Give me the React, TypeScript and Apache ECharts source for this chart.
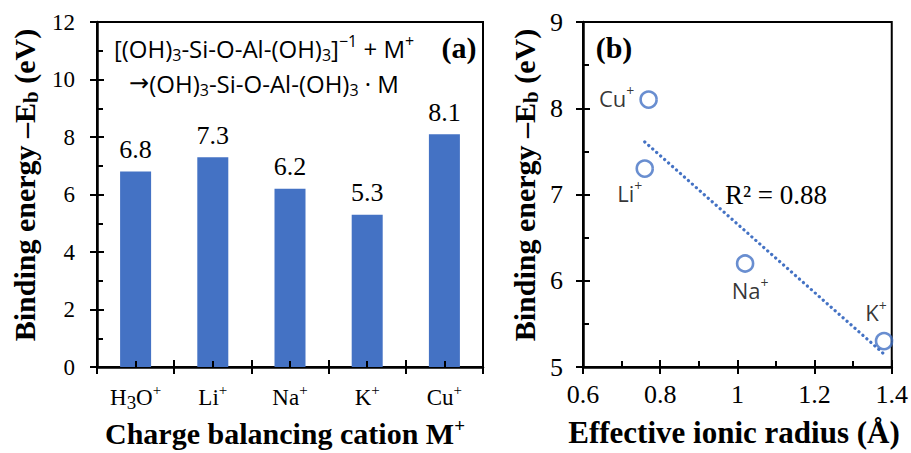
import React, { useEffect, useRef } from "react";
import * as echarts from "echarts";

// ---- Panel (a) data ----
const cations = ["H3O+", "Li+", "Na+", "K+", "Cu+"];
const bindingEnergy = [6.8, 7.3, 6.2, 5.3, 8.1];
const leftYMin = 0;
const leftYMax = 12;
const leftYInterval = 2;

// ---- Panel (b) data ----
const radiusIons = ["Cu+", "Li+", "Na+", "K+"];
const ionicRadius = [0.77, 0.76, 1.02, 1.38];
const radiusEnergy = [8.1, 7.3, 6.2, 5.3];
const trendX = [0.76, 1.38];
const trendY = [7.61, 5.15];
const rightXMin = 0.6;
const rightXMax = 1.4;
const rightXInterval = 0.2;
const rightYMin = 5;
const rightYMax = 9;
const rightYInterval = 1;
const rSquaredText = "R² = 0.88";

const SERIF = "Liberation Serif";
const SANS = "Open Sans";
const BLUE = "#4472C4";

const toRich = (s: string) =>
  ("{n|" + s.replace(/(\d)/g, "}{s|$1}{n|").replace(/\+/g, "}{p|+}{n|") + "}").replace(/\{n\|\}/g, "");

export default function App() {
  const ref = useRef<HTMLDivElement>(null);

  useEffect(() => {
    if (!ref.current) return;
    const chart = echarts.init(ref.current, undefined, { renderer: "svg" });

    const tickStyle = { color: "#000", width: 2 };
    const axisLineStyle = { color: "#000", width: 2.5 };

    const labelOffsets: Record<string, number[]> = {
      "Cu+": [-32, -2],
      "Li+": [-15, 24],
      "Na+": [5, 26],
      "K+": [-8, -29],
    };

    const catRich = {
      n: { fontSize: 23, fontFamily: SERIF, color: "#000", lineHeight: 30 },
      s: { fontSize: 19, fontFamily: SERIF, color: "#000", lineHeight: 16, verticalAlign: "bottom" },
      p: { fontSize: 15, fontFamily: SERIF, color: "#000", lineHeight: 17, verticalAlign: "top" },
    };
    const sansRich = (base: number, small: number) => ({
      n: { fontSize: base, fontFamily: SANS, color: "#000", lineHeight: base + 6 },
      a: { fontSize: base, fontFamily: "DejaVu Sans", color: "#000", lineHeight: base + 6 },
      s: { fontSize: small, fontFamily: SANS, color: "#000", lineHeight: small, verticalAlign: "bottom" },
      p: { fontSize: small, fontFamily: SANS, color: "#000", lineHeight: small, verticalAlign: "top" },
    });
    const titleRich = {
      t: { fontSize: 30, fontFamily: SERIF, fontWeight: "bold", color: "#000", lineHeight: 34 },
      s: { fontSize: 21, fontFamily: SERIF, fontWeight: "bold", color: "#000", lineHeight: 20, verticalAlign: "bottom" },
      p: { fontSize: 19, fontFamily: SERIF, fontWeight: "bold", color: "#000", lineHeight: 28, verticalAlign: "top" },
    };

    const valueLabel = (size: number, margin: number) => ({
      margin, fontSize: size, fontFamily: SERIF, color: "#000",
      formatter: (v: number) => String(Math.round(v * 10) / 10),
    });

    const option: any = {
      animation: false,
      grid: [
        { left: 97, top: 22, width: 386, height: 345, show: true, borderColor: "#000", borderWidth: 2, backgroundColor: "transparent" },
        { left: 583, top: 22, width: 310, height: 345, show: true, borderColor: "#000", borderWidth: 2, backgroundColor: "transparent" },
      ],
      xAxis: [
        {
          type: "category", gridIndex: 0, data: cations,
          axisLine: { show: true, lineStyle: axisLineStyle },
          axisTick: { show: true, inside: false, length: 7, lineStyle: tickStyle },
          axisLabel: {
            margin: 15, interval: 0, hideOverlap: false,
            fontSize: 23, fontFamily: SERIF, color: "#000",
            formatter: (v: string) => toRich(v), rich: catRich,
          },
          splitLine: { show: false },
        },
        {
          type: "category", gridIndex: 0, data: cations, position: "bottom",
          axisLine: { show: false },
          axisTick: { show: true, inside: true, length: 7, lineStyle: tickStyle },
          axisLabel: { show: false }, splitLine: { show: false }, z: 10,
        },
        {
          type: "category", gridIndex: 0, data: cations, position: "bottom",
          axisLine: { show: false },
          axisTick: { show: true, inside: true, alignWithLabel: true, interval: 0, length: 6, lineStyle: tickStyle },
          axisLabel: { show: false }, splitLine: { show: false }, z: 10,
        },
        {
          type: "value", gridIndex: 1, min: rightXMin, max: rightXMax, interval: rightXInterval,
          axisLine: { show: true, lineStyle: axisLineStyle },
          axisTick: { show: true, inside: false, length: 7, lineStyle: tickStyle },
          axisLabel: valueLabel(26, 14),
          splitLine: { show: false },
        },
        {
          type: "value", gridIndex: 1, min: rightXMin, max: rightXMax, interval: rightXInterval, position: "bottom",
          axisLine: { show: false },
          axisTick: { show: true, inside: true, length: 7, lineStyle: tickStyle },
          minorTick: { show: true, splitNumber: 2, length: 6, lineStyle: tickStyle },
          axisLabel: { show: false }, splitLine: { show: false }, minorSplitLine: { show: false },
        },
      ],
      yAxis: [
        {
          type: "value", gridIndex: 0, min: leftYMin, max: leftYMax, interval: leftYInterval,
          axisLine: { show: true, lineStyle: axisLineStyle },
          axisTick: { show: true, inside: false, length: 7, lineStyle: tickStyle },
          axisLabel: valueLabel(23, 22),
          splitLine: { show: false },
        },
        {
          type: "value", gridIndex: 0, min: leftYMin, max: leftYMax, interval: leftYInterval, position: "left",
          axisLine: { show: false },
          axisTick: { show: true, inside: true, length: 7, lineStyle: tickStyle },
          minorTick: { show: true, splitNumber: 2, length: 6, lineStyle: tickStyle },
          axisLabel: { show: false }, splitLine: { show: false }, minorSplitLine: { show: false },
        },
        {
          type: "value", gridIndex: 1, min: rightYMin, max: rightYMax, interval: rightYInterval,
          axisLine: { show: true, lineStyle: axisLineStyle },
          axisTick: { show: true, inside: false, length: 7, lineStyle: tickStyle },
          axisLabel: valueLabel(26, 20),
          splitLine: { show: false },
        },
        {
          type: "value", gridIndex: 1, min: rightYMin, max: rightYMax, interval: rightYInterval, position: "left",
          axisLine: { show: false },
          axisTick: { show: true, inside: true, length: 7, lineStyle: tickStyle },
          minorTick: { show: true, splitNumber: 2, length: 6, lineStyle: tickStyle },
          axisLabel: { show: false }, splitLine: { show: false }, minorSplitLine: { show: false },
        },
      ],
      series: [
        {
          type: "bar", xAxisIndex: 0, yAxisIndex: 0, data: bindingEnergy, barWidth: 31,
          itemStyle: { color: BLUE },
          label: {
            show: true, position: "top", distance: 9,
            fontSize: 26, fontFamily: SERIF, color: "#000",
            formatter: (p: any) => Number(p.value).toFixed(1),
          },
        },
        {
          type: "line", xAxisIndex: 3, yAxisIndex: 2,
          data: trendX.map((x, i) => [x, trendY[i]]),
          showSymbol: false, symbol: "none",
          lineStyle: { color: BLUE, width: 3.2, type: [0.1, 5.2], cap: "round" },
          z: 2,
        },
        {
          type: "scatter", xAxisIndex: 3, yAxisIndex: 2, symbol: "circle", symbolSize: 16,
          itemStyle: { color: "rgba(255,255,255,0)", borderColor: BLUE, borderWidth: 2.6 },
          data: radiusIons.map((name, i) => ({
            name, value: [ionicRadius[i], radiusEnergy[i]],
            label: { offset: labelOffsets[name] },
          })),
          label: {
            show: true, position: "inside",
            formatter: (p: any) => "{n|" + p.name.replace("+", "") + "}{p|+}",
            rich: sansRich(22, 14),
          },
          z: 3,
        },
      ],
      graphic: [
        {
          type: "text", x: 264, y: 48,
          style: {
            text: "{n|[(OH)}{s|3}{n|-Si-O-Al-(OH)}{s|3}{n|]}{p|−1}{n| + M}{p|+}",
            rich: sansRich(24, 16), align: "center", verticalAlign: "middle",
          },
        },
        {
          type: "text", x: 264, y: 83,
          style: {
            text: "{a|→}{n|(OH)}{s|3}{n|-Si-O-Al-(OH)}{s|3}{n| · M}",
            rich: sansRich(24, 16), align: "center", verticalAlign: "middle",
          },
        },
        {
          type: "text", x: 459, y: 47,
          style: { text: "(a)", font: "bold 30px 'Liberation Serif'", fill: "#000", align: "center", verticalAlign: "middle" },
        },
        {
          type: "text", x: 614, y: 47,
          style: { text: "(b)", font: "bold 30px 'Liberation Serif'", fill: "#000", align: "center", verticalAlign: "middle" },
        },
        {
          type: "text", x: 725, y: 195,
          style: { text: rSquaredText, font: "27px 'Liberation Serif'", fill: "#000", align: "left", verticalAlign: "middle" },
        },
        {
          type: "text", x: 24, y: 185, rotation: Math.PI / 2,
          style: { text: "{t|Binding energy –E}{s|b}{t| (eV)}", rich: titleRich, align: "center", verticalAlign: "middle" },
        },
        {
          type: "text", x: 524, y: 185, rotation: Math.PI / 2,
          style: { text: "{t|Binding energy –E}{s|b}{t| (eV)}", rich: titleRich, align: "center", verticalAlign: "middle" },
        },
        {
          type: "text", x: 285, y: 433,
          style: { text: "{t|Charge balancing cation M}{p|+}", rich: titleRich, align: "center", verticalAlign: "middle" },
        },
        {
          type: "text", x: 734, y: 432,
          style: { text: "{t|Effective ionic radius (Å)}", rich: { ...titleRich, t: { ...titleRich.t, fontSize: 31 } }, align: "center", verticalAlign: "middle" },
        },
      ],
    };

    chart.setOption(option);
    return () => chart.dispose();
  }, []);

  return (
    <div
      ref={ref}
      style={{ position: "fixed", left: 0, top: 0, width: 911, height: 453, background: "#fff" }}
    />
  );
}
